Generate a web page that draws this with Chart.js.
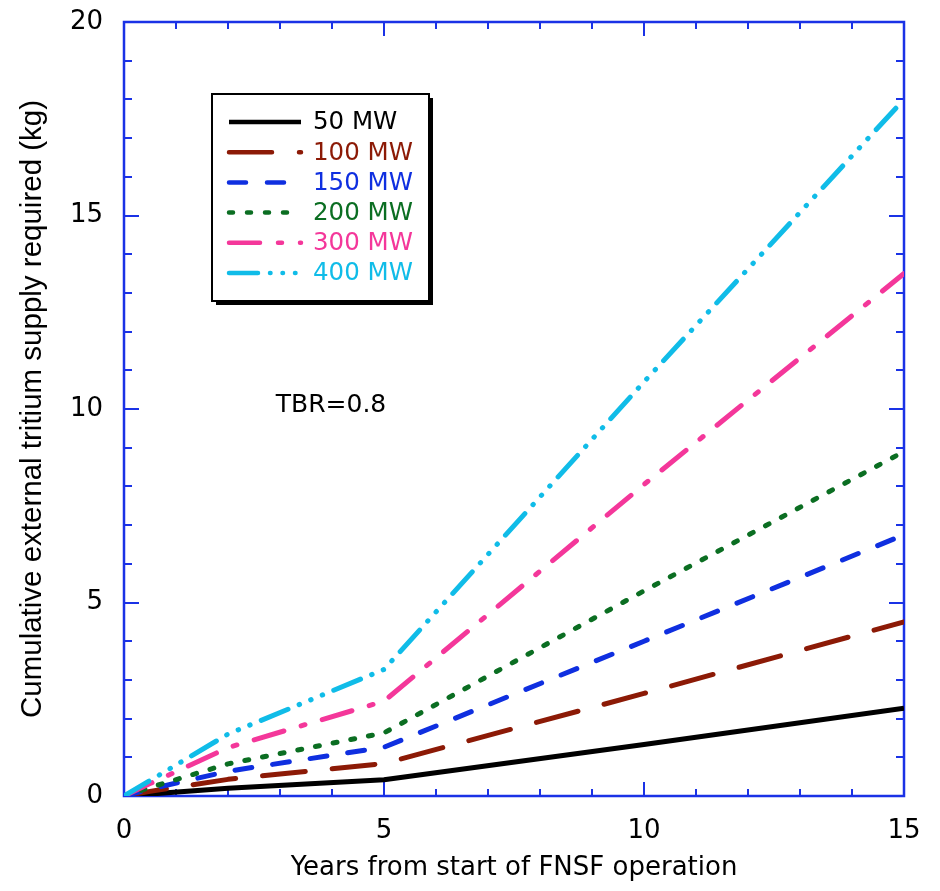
<!DOCTYPE html>
<html>
<head>
<meta charset="utf-8">
<script src="https://cdn.jsdelivr.net/npm/chart.js@4/dist/chart.umd.min.js"></script>
<style>
html,body{margin:0;padding:0;background:#fff;}
#wrap{width:940px;height:891px;}
</style>
</head>
<body>
<div id="wrap"><canvas id="c" width="940" height="891"></canvas></div>
<script>
// ---- data ----
const years = [0, 0.5, 2, 5, 10, 15];
const mw50  = [0, 0.05, 0.20, 0.42, 1.33, 2.27];
const mw100 = [0, 0.12, 0.43, 0.84, 2.65, 4.50];
const mw150 = [0, 0.18, 0.64, 1.26, 4.00, 6.75];
const mw200 = [0, 0.22, 0.83, 1.63, 5.30, 8.90];
const mw300 = [0, 0.32, 1.25, 2.45, 8.05, 13.50];
const mw400 = [0, 0.40, 1.60, 3.27, 10.70, 18.00];
const seriesLabels = ['50 MW', '100 MW', '150 MW', '200 MW', '300 MW', '400 MW'];
const xTickValues = [0, 5, 10, 15];
const yTickValues = [0, 5, 10, 15, 20];
const xTitle = 'Years from start of FNSF operation';
const yTitle = 'Cumulative external tritium supply required (kg)';
const noteText = 'TBR=0.8';

// ---- styles ----
const seriesValues = [mw50, mw100, mw150, mw200, mw300, mw400];
const colors = ['#000000', '#8c1a06', '#0f2fe0', '#0b6e22', '#f4379a', '#10bce8'];
const dashes = [
  [],
  [43, 27],
  [17, 21],
  [4, 14],
  [31, 18, 4, 18],
  [29, 12, 0.5, 12, 0.5, 12, 0.5, 12]
];
const axisColor = '#1a32e6';

const datasets = seriesValues.map((vals, i) => ({
  label: seriesLabels[i],
  data: years.map((x, j) => ({x: x, y: vals[j]})),
  borderColor: colors[i],
  backgroundColor: colors[i],
  borderWidth: 5,
  borderDash: dashes[i],
  borderCapStyle: dashes[i].length ? 'round' : 'butt',
  borderJoinStyle: 'round',
  pointRadius: 0,
  tension: 0,
  fill: false,
  order: 6 - i
}));

const framePlugin = {
  id: 'frame',
  beforeDatasetsDraw(chart) {
    const {ctx, chartArea: a, scales: {x, y}} = chart;
    ctx.save();
    ctx.strokeStyle = axisColor;
    ctx.lineWidth = 2.5;
    ctx.strokeRect(a.left, a.top, a.right - a.left, a.bottom - a.top);
    ctx.lineWidth = 2;
    ctx.beginPath();
    for (let v = 0; v <= 15; v++) {
      const px = Math.round(x.getPixelForValue(v));
      const len = v % 5 === 0 ? 14 : 7;
      ctx.moveTo(px, a.bottom); ctx.lineTo(px, a.bottom - len);
      ctx.moveTo(px, a.top); ctx.lineTo(px, a.top + len);
    }
    for (let v = 0; v <= 20; v++) {
      const py = Math.round(y.getPixelForValue(v));
      const len = v % 5 === 0 ? 15 : 8;
      ctx.moveTo(a.left, py); ctx.lineTo(a.left + len, py);
      ctx.moveTo(a.right, py); ctx.lineTo(a.right - len, py);
    }
    ctx.stroke();
    ctx.restore();
  },
  afterDraw(chart) {
    const {ctx} = chart;
    ctx.save();
    ctx.fillStyle = '#000';
    ctx.font = '25px "DejaVu Sans"';
    ctx.textAlign = 'center';
    ctx.textBaseline = 'middle';
    ctx.fillText(noteText, 331, 405);
    const bx = 212, by = 94, bw = 217, bh = 207;
    ctx.fillStyle = '#000';
    ctx.fillRect(bx + 4, by + 4, bw, bh);
    ctx.fillStyle = '#fff';
    ctx.fillRect(bx, by, bw, bh);
    ctx.strokeStyle = '#000';
    ctx.lineWidth = 2;
    ctx.strokeRect(bx, by, bw, bh);
    chart.data.datasets.forEach((ds, i) => {
      const ry = 122 + i * 30.2;
      ctx.strokeStyle = ds.borderColor;
      ctx.lineWidth = 4.5;
      ctx.setLineDash(ds.borderDash);
      ctx.lineCap = ds.borderCapStyle;
      ctx.beginPath();
      ctx.moveTo(229, ry);
      ctx.lineTo(301, ry);
      ctx.stroke();
      ctx.setLineDash([]);
      ctx.fillStyle = ds.borderColor;
      ctx.font = '24.5px "DejaVu Sans"';
      ctx.textAlign = 'left';
      ctx.textBaseline = 'middle';
      ctx.fillText(ds.label, 313, ry + 1);
    });
    ctx.restore();
  }
};

new Chart(document.getElementById('c'), {
  type: 'line',
  data: {datasets: datasets},
  plugins: [framePlugin],
  options: {
    responsive: false,
    animation: false,
    devicePixelRatio: 1,
    layout: {padding: {top: 22, right: 36, left: 0, bottom: 0}},
    plugins: {legend: {display: false}, tooltip: {enabled: false}},
    scales: {
      x: {
        type: 'linear', min: 0, max: 15,
        afterBuildTicks: s => { s.ticks = xTickValues.map(v => ({value: v})); },
        afterFit: s => { s.height = 95; s.paddingLeft = 0; s.paddingRight = 0; },
        grid: {display: false, drawTicks: false},
        border: {display: false},
        ticks: {color: '#000', padding: 20, font: {family: 'DejaVu Sans', size: 26}},
        title: {display: true, text: xTitle, color: '#000',
                font: {family: 'DejaVu Sans', size: 26}, padding: {top: 0, bottom: 7}}
      },
      y: {
        type: 'linear', min: 0, max: 20,
        afterBuildTicks: s => { s.ticks = yTickValues.map(v => ({value: v})); },
        afterFit: s => { s.width = 124; s.paddingTop = 0; s.paddingBottom = 0; },
        grid: {display: false, drawTicks: false},
        border: {display: false},
        ticks: {color: '#000', padding: 21, font: {family: 'DejaVu Sans', size: 26}},
        title: {display: true, text: yTitle, color: '#000',
                font: {family: 'Liberation Sans', size: 29.5}, padding: {top: 15, bottom: 0}}
      }
    }
  }
});
</script>
</body>
</html>
